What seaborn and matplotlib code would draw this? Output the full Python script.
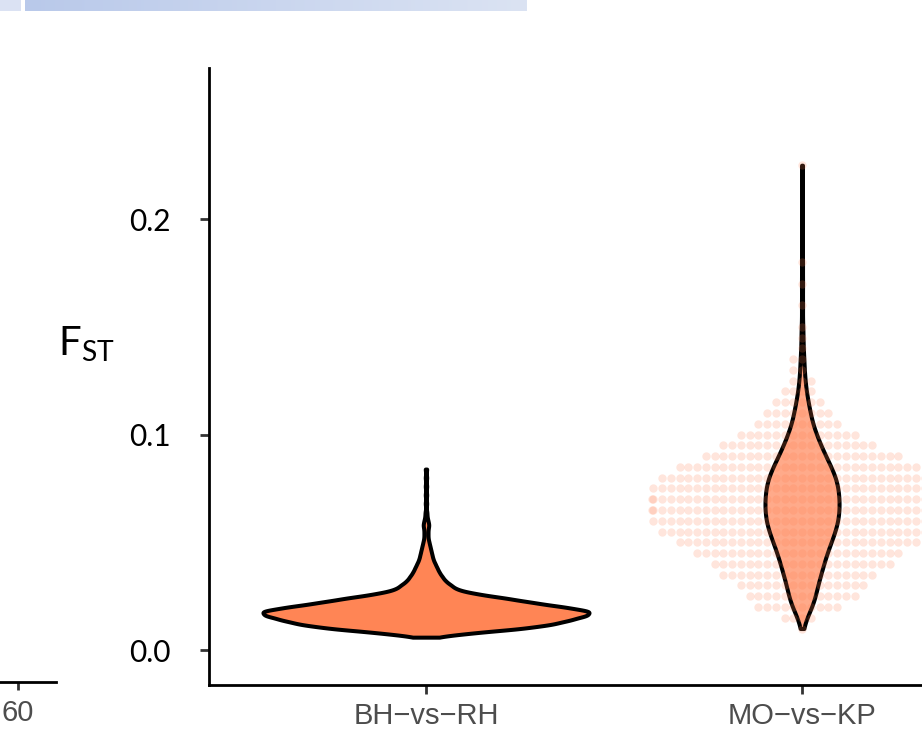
import numpy as np
import pandas as pd
import matplotlib
matplotlib.use("Agg")
import matplotlib.pyplot as plt
import seaborn as sns
from matplotlib import font_manager
from matplotlib.colors import LinearSegmentedColormap
from matplotlib.patches import Rectangle

# pairwise comparisons on the x axis
pairs = ["BH-vs-RH", "MO-vs-KP"]
tick_labels = ["BH\u2212vs\u2212RH", "MO\u2212vs\u2212KP"]
y_ticks = [0.0, 0.1, 0.2]

# FST values (binned) and how many loci fall in each bin
bh_fst = [0.006, 0.008, 0.010, 0.012, 0.014, 0.016, 0.018, 0.020, 0.022, 0.024,
          0.026, 0.028, 0.030, 0.032, 0.034, 0.036, 0.038, 0.040, 0.042, 0.044,
          0.046, 0.048, 0.050, 0.052, 0.054, 0.056, 0.058, 0.060, 0.062, 0.064,
          0.068, 0.072, 0.076, 0.080, 0.084]
bh_count = [8, 45, 95, 125, 141, 158, 163, 135, 105, 80,
            50, 30, 25, 19, 16, 13, 11, 9, 7, 6,
            5, 4, 3, 2, 2, 2, 3, 2, 1, 1,
            1, 1, 1, 1, 1]

mo_fst = [0.010, 0.015, 0.020, 0.025, 0.030, 0.035, 0.040, 0.045, 0.050, 0.055,
          0.060, 0.065, 0.070, 0.075, 0.080, 0.085, 0.090, 0.095, 0.100, 0.105,
          0.110, 0.115, 0.120, 0.125, 0.130, 0.135, 0.140, 0.145, 0.150, 0.160,
          0.170, 0.180, 0.225]
mo_count = [1, 4, 10, 13, 15, 18, 21, 24, 28, 32,
            35, 36, 36, 35, 33, 28, 23, 18, 14, 10,
            8, 6, 4, 3, 2, 2, 1, 1, 1, 1,
            1, 1, 1]

bh_df = pd.DataFrame({"pair": pairs[0], "fst": np.repeat(bh_fst, bh_count)})
mo_df = pd.DataFrame({"pair": pairs[1], "fst": np.repeat(mo_fst, mo_count)})

sns.set_theme(style="ticks")
plt.rcParams["font.family"] = ["Lato", "DejaVu Sans"]

# ggplot-ish narrow sans for the category labels, if it is there
installed = {f.name for f in font_manager.fontManager.ttflist}
if "Liberation Sans Narrow" in installed:
    cat_font, cat_size = ["Liberation Sans Narrow", "DejaVu Sans"], 24
else:
    cat_font, cat_size = ["Liberation Sans", "DejaVu Sans"], 21

fig = plt.figure(figsize=(9.22, 7.31), dpi=100)
W, H = 922, 731

# main panel (its right part is cut off by the slide edge)
ax = fig.add_axes([209 / W, (H - 685) / H, 810 / W, (685 - 68) / H])

sns.violinplot(data=bh_df, x="pair", y="fst", order=pairs, color="#ff8555",
               density_norm="width", width=0.867, cut=0, inner=None,
               linewidth=2.9, linecolor="black", gridsize=500,
               bw_method=0.0012 / bh_df["fst"].std(), saturation=1, ax=ax)
sns.violinplot(data=mo_df, x="pair", y="fst", order=pairs, color="#ffaa8a",
               density_norm="width", width=0.197, cut=0, inner=None,
               linewidth=2.9, linecolor="black", gridsize=400,
               bw_method=0.0045 / mo_df["fst"].std(), saturation=1, ax=ax)
sns.swarmplot(data=mo_df, x="pair", y="fst", order=pairs, color="#ff7f50",
              alpha=0.2, size=6, linewidth=0, warn_thresh=1, ax=ax)

ax.set_xlim(-0.577, 1.577)
ax.set_ylim(-0.0162, 0.2701)
ax.set_yticks(y_ticks)
ax.set_yticklabels([f"{v:.1f}" for v in y_ticks])
ax.set_xticks(range(len(pairs)))
ax.set_xticklabels(tick_labels)
ax.set_xlabel("")
ax.set_ylabel(r"$\mathregular{F_{ST}}$", rotation=0, fontsize=29, color="black",
              ha="center", va="center")
ax.yaxis.set_label_coords(-0.152, 0.552)

for side in ["top", "right"]:
    ax.spines[side].set_visible(False)
for side in ["left", "bottom"]:
    ax.spines[side].set_color("black")
    ax.spines[side].set_linewidth(2.0)

ax.tick_params(axis="y", length=6.5, width=2, color="#333333", pad=21,
               labelsize=21.5, labelcolor="black")
ax.tick_params(axis="x", length=6.5, width=2, color="#333333", pad=6,
               labelsize=cat_size, labelcolor="#4d4d4d")
for lab in ax.get_xticklabels():
    lab.set_fontfamily(cat_font)

# fragment of the neighbouring panel on the slide
ax0 = fig.add_axes([-200 / W, (H - 682) / H, 256 / W, 0.4])
ax0.set_xlim(0, 70.5)
ax0.set_ylim(0, 1)
ax0.set_xticks([60])
ax0.set_xticklabels(["60"])
ax0.set_yticks([])
for side in ["top", "right", "left"]:
    ax0.spines[side].set_visible(False)
ax0.spines["bottom"].set_color("black")
ax0.spines["bottom"].set_linewidth(2.0)
ax0.patch.set_alpha(0)
ax0.tick_params(axis="x", length=6, width=2, color="#333333", pad=6,
                labelsize=cat_size, labelcolor="#4d4d4d")
for lab in ax0.get_xticklabels():
    lab.set_fontfamily(cat_font)

# slide header bar
fig.add_artist(Rectangle((0, 1 - 11 / H), 21 / W, 11 / H, transform=fig.transFigure,
                         facecolor="#dbe2f3", edgecolor="none"))
bar = fig.add_axes([25 / W, 1 - 11 / H, 502 / W, 11 / H])
cmap = LinearSegmentedColormap.from_list("hdr", ["#b9c9ea", "#dbe3f3"])
bar.imshow(np.linspace(0, 1, 256)[None, :], cmap=cmap, aspect="auto")
bar.axis("off")

fig.savefig("out.png", dpi=100)
